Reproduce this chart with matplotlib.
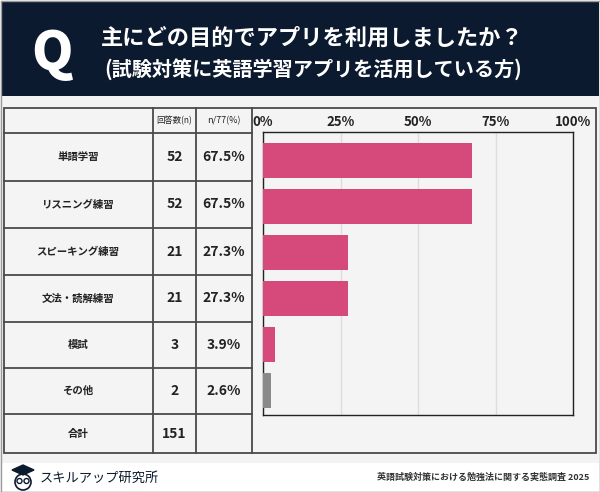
import matplotlib
matplotlib.use('Agg')
import matplotlib.pyplot as plt
from matplotlib.patches import Rectangle, Circle, Polygon

plt.rcParams['font.family'] = ['Noto Sans CJK JP', 'DejaVu Sans']

# データ
categories = ['単語学習', 'リスニング練習', 'スピーキング練習', '文法・読解練習', '模試', 'その他']
counts = [52, 52, 21, 21, 3, 2]
pcts = [67.5, 67.5, 27.3, 27.3, 3.9, 2.6]
total = 151
n_resp = 77
ticks = [0, 25, 50, 75, 100]

title1 = '主にどの目的でアプリを利用しましたか？'
title2 = '(試験対策に英語学習アプリを活用している方)'
source = '英語試験対策における勉強法に関する実態調査 2025'
brand = 'スキルアップ研究所'

navy = '#0c1a2f'
pink = '#d5497b'
grey_bar = '#8a8a8a'
line_c = '#4a4a4a'

fig = plt.figure(figsize=(6, 4.92), dpi=100)
bg = fig.add_axes([0, 0, 1, 1])
bg.set_xlim(0, 600)
bg.set_ylim(492, 0)
bg.axis('off')

# 背景・ヘッダー・フッター
bg.add_patch(Rectangle((0, 0), 600, 492, facecolor='#f3f3f3', edgecolor='none'))
bg.add_patch(Rectangle((1, 1), 598, 95, facecolor=navy, edgecolor='none'))
bg.add_patch(Rectangle((1, 463), 598, 28, facecolor='white', edgecolor='none'))
bg.add_patch(Rectangle((0.5, 0.5), 599, 491, facecolor='none', edgecolor='#9a9a9a', lw=1))

bg.text(52, 54, 'Q', color='white', fontsize=38, fontweight='black',
        ha='center', va='center', family='Noto Sans CJK JP')
bg.text(312, 38, title1, color='white', fontsize=16, fontweight='bold', ha='center', va='center')
bg.text(313, 69, title2, color='white', fontsize=14.5, fontweight='bold', ha='center', va='center')

# 表
col_x = [4, 153, 196, 252, 596]
row_y = [108, 133, 181, 228, 275, 322, 368, 414, 453]
lw = 1.3
bg.add_patch(Rectangle((col_x[0], row_y[0]), col_x[-1] - col_x[0], row_y[-1] - row_y[0],
                       facecolor='#f4f4f4', edgecolor=line_c, lw=lw))
for x in col_x[1:-1]:
    bg.plot([x, x], [row_y[0], row_y[-1]], color=line_c, lw=lw)
for y in row_y[1:-1]:
    bg.plot([col_x[0], col_x[3]], [y, y], color=line_c, lw=lw)

bg.text(174.5, 121, '回答数(n)', fontsize=6, ha='center', va='center', color='#222')
bg.text(224, 121, f'n/{n_resp}(%)', fontsize=6.5, ha='center', va='center', color='#222')

for i, (cat, c, p) in enumerate(zip(categories, counts, pcts)):
    yc = (row_y[i + 1] + row_y[i + 2]) / 2
    bg.text(78, yc, cat, fontsize=7.5, fontweight='bold', ha='center', va='center', color='#222')
    bg.text(174.5, yc, str(c), fontsize=10, fontweight='bold', ha='center', va='center', color='#222')
    bg.text(224, yc, f'{p}%', fontsize=10, fontweight='bold', ha='center', va='center', color='#222')

yc = (row_y[-2] + row_y[-1]) / 2
bg.text(78, yc, '合計', fontsize=7.5, fontweight='bold', ha='center', va='center', color='#222')
bg.text(174.5, yc, str(total), fontsize=10, fontweight='bold', ha='center', va='center', color='#222')

# フッター
bg.text(589, 477, source, fontsize=6.5, fontweight='bold', ha='right', va='center', color='#333')
bg.text(40, 478, brand, fontsize=9.5, ha='left', va='center', color=navy)
# ロゴ(ふくろう)
bg.add_patch(Circle((23, 482), 8, facecolor='white', edgecolor=navy, lw=1.2))
bg.add_patch(Circle((19.5, 481), 2.5, facecolor='white', edgecolor=navy, lw=1))
bg.add_patch(Circle((26.5, 481), 2.5, facecolor='white', edgecolor=navy, lw=1))
bg.add_patch(Polygon([[12, 470], [23, 465], [34, 470], [23, 475]], facecolor=navy, edgecolor=navy))

# 棒グラフ
ax = fig.add_axes([263 / 600, 1 - 415 / 492, 310 / 600, 283 / 492])
ax.set_facecolor('#f4f4f4')
colors = [pink] * (len(categories) - 1) + [grey_bar]
ax.barh(range(len(categories)), pcts, height=0.76, color=colors, zorder=3)
ax.set_xlim(0, 100)
ax.set_ylim(5.53, -0.62)
ax.set_yticks([])
ax.set_xticks(ticks)
ax.set_xticklabels([f'{t}%' for t in ticks], fontsize=9.5, fontweight='bold', color='#222')
ax.xaxis.tick_top()
ax.tick_params(axis='x', length=0, pad=2.5)
ax.grid(axis='x', color='#dddddd', lw=1, zorder=0)
for s in ax.spines.values():
    s.set_color('#222')
    s.set_linewidth(1)

fig.savefig('out.png', dpi=100)
